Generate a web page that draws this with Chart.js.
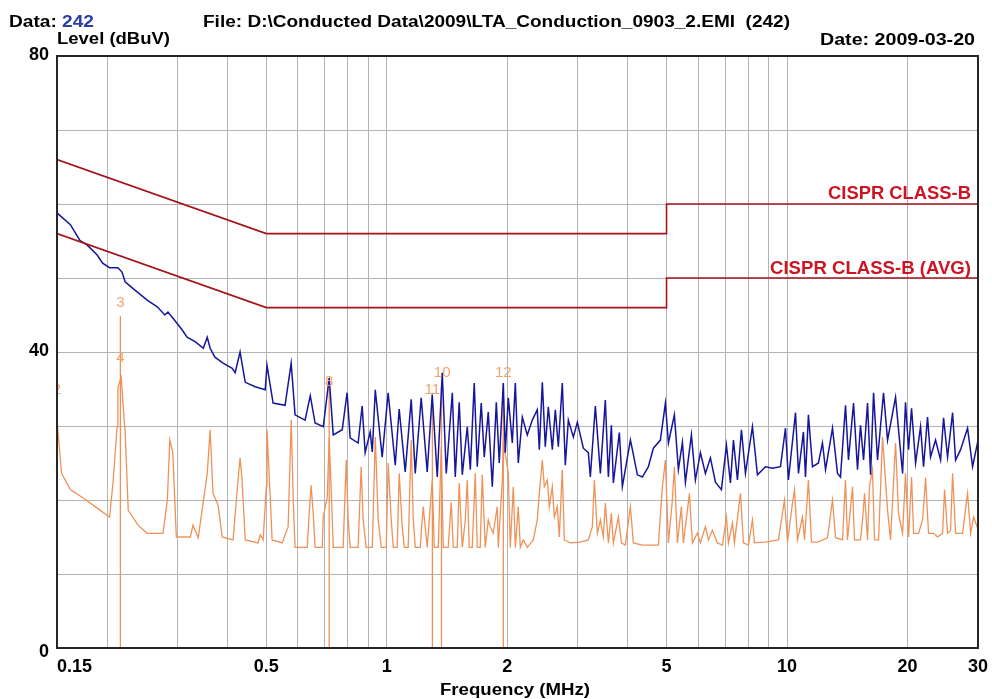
<!DOCTYPE html>
<html>
<head>
<meta charset="utf-8">
<script src="https://cdn.jsdelivr.net/npm/chart.js@4.4.1/dist/chart.umd.min.js"></script>
<style>
  html, body { margin: 0; padding: 0; background: #fff; }
  canvas { display: block; }
</style>
</head>
<body>
<canvas id="emiChart" width="992" height="699"></canvas>
<script>
// peak scan (blue)
const peakFreq = [0.150, 0.162, 0.171, 0.178, 0.189, 0.195, 0.203, 0.213, 0.218, 0.222, 0.232, 0.252, 0.267, 0.279, 0.284, 0.292,
  0.308, 0.317, 0.332, 0.348, 0.356, 0.362, 0.372, 0.390, 0.411, 0.418, 0.430, 0.443, 0.469, 0.497, 0.502, 0.520,
  0.557, 0.577, 0.590, 0.625, 0.644, 0.662, 0.694, 0.718, 0.735, 0.774, 0.796, 0.810, 0.848, 0.868, 0.883, 0.909,
  0.920, 0.936, 0.974, 1.008, 1.050, 1.074, 1.112, 1.151, 1.178, 1.219, 1.262, 1.299, 1.337, 1.376, 1.408, 1.458,
  1.483, 1.517, 1.544, 1.589, 1.617, 1.654, 1.683, 1.722, 1.752, 1.793, 1.835, 1.878, 1.910, 1.955, 1.977, 2.012,
  2.059, 2.095, 2.131, 2.181, 2.244, 2.310, 2.377, 2.405, 2.447, 2.489, 2.533, 2.592, 2.637, 2.683, 2.745, 2.793,
  2.842, 2.925, 2.993, 3.098, 3.189, 3.225, 3.320, 3.417, 3.516, 3.578, 3.640, 3.682, 3.811, 3.878, 4.061, 4.108,
  4.228, 4.351, 4.504, 4.635, 4.826, 4.967, 5.054, 5.231, 5.353, 5.478, 5.573, 5.769, 5.903, 6.076, 6.253, 6.436,
  6.624, 6.856, 7.057, 7.221, 7.347, 7.518, 7.693, 7.872, 8.196, 8.435, 8.833, 9.196, 9.630, 9.911, 10.08, 10.50,
  10.68, 10.99, 11.12, 11.31, 11.58, 11.98, 12.26, 12.48, 12.99, 13.37, 13.60, 14.00, 14.24, 14.66, 15.00, 15.26,
  15.53, 15.89, 16.17, 16.45, 16.83, 17.42, 17.83, 18.67, 19.44, 19.77, 20.12, 20.47, 20.95, 21.56, 21.93, 22.44,
  22.83, 23.50, 24.19, 24.61, 25.18, 25.92, 26.37, 27.14, 28.25, 29.08, 29.93];
const peakLevel = [58.8, 57.2, 55.1, 54.5, 53.1, 52.0, 51.4, 51.4, 50.8, 49.5, 48.6, 47.0, 46.1, 45.0, 45.4, 44.6,
  43.0, 42.0, 41.4, 40.5, 42.0, 40.5, 39.3, 38.5, 37.8, 37.2, 40.0, 35.9, 35.3, 34.9, 38.2, 33.1,
  32.8, 38.5, 31.5, 30.8, 34.1, 30.4, 29.9, 36.5, 28.8, 29.5, 34.5, 28.4, 27.7, 32.7, 26.4, 29.2,
  26.5, 34.9, 25.8, 34.5, 24.7, 32.3, 23.8, 33.6, 23.6, 33.8, 23.8, 34.2, 23.1, 37.2, 23.6, 34.5,
  23.1, 33.2, 23.4, 29.9, 24.1, 35.8, 24.5, 33.1, 25.8, 31.9, 21.8, 33.2, 25.0, 35.8, 26.4, 33.8,
  27.7, 35.8, 25.0, 31.2, 28.8, 30.8, 32.2, 26.8, 35.9, 27.2, 32.6, 26.8, 32.2, 27.2, 35.8, 24.7,
  30.8, 28.5, 30.5, 27.0, 26.4, 23.1, 32.7, 23.6, 33.5, 23.1, 30.1, 22.3, 29.1, 21.8, 28.1, 26.8,
  23.4, 23.1, 24.5, 27.0, 28.1, 33.1, 27.7, 31.5, 24.1, 27.8, 22.4, 28.8, 22.7, 26.4, 23.6, 25.7,
  22.4, 21.4, 27.4, 22.3, 28.1, 22.7, 29.5, 23.6, 29.9, 23.4, 24.5, 24.3, 24.5, 29.7, 22.7, 31.8,
  23.6, 29.2, 23.1, 31.5, 24.5, 25.0, 27.7, 24.1, 29.7, 23.6, 23.1, 32.8, 25.4, 33.1, 24.1, 30.1,
  25.4, 33.1, 23.4, 34.5, 25.4, 34.5, 28.1, 33.9, 23.6, 33.2, 26.8, 32.4, 25.0, 29.9, 24.5, 31.2,
  25.8, 28.1, 25.4, 31.1, 25.8, 31.8, 25.4, 26.8, 29.7, 24.5, 27.8];

// average scan (orange)
const avgFreq = [0.150, 0.154, 0.162, 0.174, 0.189, 0.203, 0.207, 0.212, 0.213, 0.217, 0.219, 0.222, 0.226, 0.239, 0.252, 0.276,
  0.283, 0.287, 0.292, 0.298, 0.323, 0.328, 0.338, 0.356, 0.362, 0.368, 0.379, 0.388, 0.413, 0.425, 0.430, 0.435,
  0.443, 0.477, 0.483, 0.491, 0.500, 0.502, 0.511, 0.517, 0.548, 0.567, 0.577, 0.584, 0.590, 0.633, 0.640, 0.647,
  0.655, 0.662, 0.690, 0.694, 0.710, 0.718, 0.730, 0.735, 0.778, 0.792, 0.801, 0.810, 0.848, 0.863, 0.873, 0.888,
  0.920, 0.936, 0.952, 0.969, 0.997, 1.008, 1.026, 1.038, 1.062, 1.074, 1.093, 1.106, 1.131, 1.151, 1.164, 1.178,
  1.212, 1.233, 1.262, 1.299, 1.314, 1.345, 1.368, 1.384, 1.424, 1.449, 1.466, 1.500, 1.517, 1.544, 1.571, 1.589,
  1.607, 1.635, 1.664, 1.683, 1.712, 1.732, 1.762, 1.793, 1.814, 1.845, 1.888, 1.899, 1.944, 1.955, 1.989, 2.012,
  2.035, 2.071, 2.095, 2.131, 2.156, 2.193, 2.244, 2.323, 2.377, 2.405, 2.447, 2.475, 2.518, 2.547, 2.592, 2.622,
  2.667, 2.698, 2.745, 2.777, 2.875, 3.045, 3.189, 3.263, 3.301, 3.358, 3.417, 3.476, 3.516, 3.578, 3.640, 3.682,
  3.790, 3.856, 3.945, 4.061, 4.131, 4.351, 4.771, 4.882, 4.967, 5.054, 5.171, 5.231, 5.322, 5.446, 5.509, 5.638,
  5.703, 5.802, 5.972, 6.076, 6.253, 6.362, 6.510, 6.700, 6.896, 7.057, 7.138, 7.305, 7.389, 7.649, 7.782, 8.010,
  8.196, 8.291, 8.833, 9.519, 9.854, 10.03, 10.32, 10.44, 10.62, 10.93, 11.06, 11.31, 11.51, 11.92, 12.62, 12.99,
  13.22, 13.76, 14.00, 14.16, 14.58, 14.74, 15.26, 15.44, 15.62, 15.89, 16.07, 16.35, 16.54, 16.93, 17.32, 17.83,
  18.14, 18.67, 18.99, 19.44, 19.77, 20.12, 20.47, 20.71, 21.31, 21.81, 22.19, 22.57, 23.23, 23.77, 24.47, 24.75,
  25.18, 25.62, 25.92, 26.37, 27.45, 28.25, 28.75, 29.25, 29.93];
const avgLevel = [30.8, 23.6, 21.4, 20.3, 18.9, 17.7, 22.3, 29.9, 35.3, 36.6, 33.5, 29.1, 18.6, 16.6, 15.5, 15.5,
  20.0, 28.1, 26.4, 15.0, 15.0, 16.6, 14.9, 23.6, 29.5, 20.9, 19.3, 15.0, 14.6, 22.7, 25.7, 22.7,
  14.6, 14.2, 15.3, 14.6, 21.8, 29.5, 20.9, 14.6, 14.2, 16.4, 30.8, 20.0, 13.6, 13.6, 18.2, 22.0,
  18.2, 13.6, 13.6, 17.7, 20.4, 28.4, 18.2, 13.6, 13.6, 25.4, 17.3, 13.6, 13.6, 24.5, 17.3, 13.6,
  13.6, 28.5, 17.3, 13.6, 13.6, 25.0, 17.3, 13.6, 13.6, 23.6, 16.4, 13.6, 13.6, 28.1, 17.7, 13.6,
  13.6, 19.1, 13.6, 22.7, 13.6, 13.6, 27.2, 13.6, 13.6, 19.7, 13.6, 13.6, 22.3, 13.6, 17.3, 22.7,
  13.6, 13.6, 23.6, 13.6, 13.6, 23.4, 13.6, 17.3, 16.4, 15.5, 19.1, 13.6, 22.7, 27.7, 25.4, 23.6,
  13.6, 21.8, 13.6, 19.1, 13.6, 14.6, 13.6, 14.6, 17.3, 20.9, 25.4, 21.8, 22.7, 19.1, 21.8, 17.7,
  19.1, 15.0, 24.1, 14.6, 14.2, 14.3, 14.6, 16.4, 22.7, 15.5, 17.3, 15.0, 19.6, 14.2, 18.2, 14.2,
  17.7, 14.2, 13.9, 19.1, 14.2, 13.9, 13.9, 21.8, 25.4, 14.2, 20.0, 24.5, 14.2, 19.1, 14.2, 18.6,
  20.9, 14.2, 15.5, 14.2, 16.4, 14.6, 15.9, 14.2, 13.9, 17.7, 14.2, 16.9, 14.2, 20.9, 14.2, 13.9,
  17.3, 14.2, 14.3, 14.6, 20.0, 14.3, 19.6, 21.4, 14.6, 17.7, 14.6, 22.7, 14.3, 14.3, 14.9, 20.0,
  14.9, 14.6, 22.7, 14.6, 21.8, 14.6, 14.6, 17.3, 20.9, 14.6, 21.8, 24.1, 14.6, 14.6, 28.5, 18.6,
  14.6, 27.7, 18.2, 15.5, 23.6, 15.0, 23.1, 15.5, 15.5, 17.3, 23.0, 15.5, 15.5, 15.0, 15.5, 21.4,
  15.5, 15.9, 23.6, 15.5, 15.5, 20.9, 15.5, 17.7, 16.2];

// CISPR 22 class B limits
const qpLimitFreq = [0.15, 0.5, 5, 5, 30];
const qpLimitLevel = [66, 56, 56, 60, 60];
const avgLimitFreq = [0.15, 0.5, 5, 5, 30];
const avgLimitLevel = [56, 46, 46, 50, 50];

// markers
const markerNames = ["2", "3", "4", "8", "11", "10", "12"];
const markerFreq = [0.150, 0.216, 0.216, 0.718, 1.30, 1.375, 1.955];
const markerLevel = [34.9, 46.6, 39.2, 35.9, 34.9, 37.2, 37.2];
const markerLineFreq = [0.216, 0.718, 1.30, 1.37, 1.955];
const markerLineTop = [44.9, 36.0, 34.5, 35.3, 35.8];

const gridFreqs = [0.15, 0.2, 0.3, 0.4, 0.5, 0.6, 0.7, 0.8, 0.9, 1, 2, 3, 4, 5, 6, 7, 8, 9, 10, 20, 30];
const xTickValues = [0.15, 0.5, 1, 2, 5, 10, 20, 30];
const xTickLabels = ["0.15", "0.5", "1", "2", "5", "10", "20", "30"];
const yTickValues = [0, 40, 80];

const pairs = (xs, ys) => xs.map((v, i) => ({ x: v, y: ys[i] }));

const markerLineData = [];
markerLineFreq.forEach((f, i) => {
  markerLineData.push({ x: f, y: markerLineTop[i] }, { x: f, y: 0 }, { x: f, y: null });
});

const FONT = '"Liberation Sans", Arial, sans-serif';

function fitText(ctx, parts, x, y, align, width, size) {
  ctx.font = "bold " + size + "px " + FONT;
  const total = parts.reduce((s, p) => s + ctx.measureText(p.t).width, 0);
  const sx = width ? width / total : 1;
  let start = x;
  if (align === "right") start = x - total * sx;
  if (align === "center") start = x - total * sx / 2;
  ctx.save();
  ctx.translate(start, y);
  ctx.scale(sx, 1);
  ctx.textAlign = "left";
  ctx.textBaseline = "alphabetic";
  let cx = 0;
  parts.forEach(p => {
    ctx.fillStyle = p.c || "#000";
    ctx.fillText(p.t, cx, 0);
    cx += ctx.measureText(p.t).width;
  });
  ctx.restore();
}

const emiText = {
  id: "emiText",
  afterDraw(chart) {
    const { ctx, chartArea: a, scales: { x, y } } = chart;
    ctx.save();
    ctx.strokeStyle = "#262626";
    ctx.lineWidth = 2;
    ctx.strokeRect(a.left, a.top, a.right - a.left, a.bottom - a.top);

    // marker numbers
    ctx.save();
    ctx.beginPath();
    ctx.rect(a.left + 1, a.top, a.right - a.left, a.bottom - a.top);
    ctx.clip();
    ctx.fillStyle = "#f0a46c";
    ctx.font = "15px " + FONT;
    ctx.textAlign = "center";
    ctx.textBaseline = "middle";
    markerNames.forEach((n, i) => {
      ctx.fillText(n, x.getPixelForValue(markerFreq[i]), y.getPixelForValue(markerLevel[i]));
    });
    ctx.restore();

    // limit labels
    const xr = x.getPixelForValue(30) - 7;
    fitText(ctx, [{ t: "CISPR CLASS-B", c: "#cc1422" }], xr, y.getPixelForValue(qpLimitLevel[4]) - 5, "right", 143, 18);
    fitText(ctx, [{ t: "CISPR CLASS-B (AVG)", c: "#cc1422" }], xr, y.getPixelForValue(avgLimitLevel[4]) - 4, "right", 201, 18);

    // x tick labels
    ctx.font = "bold 18px " + FONT;
    ctx.fillStyle = "#000";
    ctx.textBaseline = "alphabetic";
    xTickValues.forEach((v, i) => {
      const px = x.getPixelForValue(v);
      ctx.textAlign = i === 0 ? "left" : "center";
      ctx.fillText(xTickLabels[i], px, 672);
    });
    // y tick labels
    ctx.textAlign = "right";
    ctx.textBaseline = "middle";
    yTickValues.forEach(v => {
      ctx.fillText(String(v), 49, y.getPixelForValue(v) + (v === 0 ? 4 : -1));
    });

    // headings
    fitText(ctx, [{ t: "Data: " }, { t: "242", c: "#2b3fa3" }], 9, 27, "left", 85, 16);
    fitText(ctx, [{ t: "File: D:\\Conducted Data\\2009\\LTA_Conduction_0903_2.EMI  (242)" }], 203, 27, "left", 587, 16);
    fitText(ctx, [{ t: "Level (dBuV)" }], 57, 44, "left", 113, 16);
    fitText(ctx, [{ t: "Date: 2009-03-20" }], 975, 45, "right", 155, 16);
    fitText(ctx, [{ t: "Frequency (MHz)" }], 515, 695, "center", 150, 16);
    ctx.restore();
  }
};

new Chart(document.getElementById("emiChart").getContext("2d"), {
  type: "scatter",
  data: {
    datasets: [
      {
        label: "CISPR CLASS-B",
        data: pairs(qpLimitFreq, qpLimitLevel),
        showLine: true, borderColor: "#a3151b", borderWidth: 1.6, pointRadius: 0
      },
      {
        label: "CISPR CLASS-B (AVG)",
        data: pairs(avgLimitFreq, avgLimitLevel),
        showLine: true, borderColor: "#a3151b", borderWidth: 1.6, pointRadius: 0
      },
      {
        label: "Peak",
        data: pairs(peakFreq, peakLevel),
        showLine: true, borderColor: "#16169c", borderWidth: 1.5, pointRadius: 0
      },
      {
        label: "Average",
        data: pairs(avgFreq, avgLevel),
        showLine: true, borderColor: "#ef9258", borderWidth: 1.3, pointRadius: 0
      },
      {
        label: "Markers",
        data: markerLineData,
        showLine: true, spanGaps: false, borderColor: "#ef9258", borderWidth: 1.3, pointRadius: 0
      }
    ]
  },
  options: {
    responsive: false,
    animation: false,
    layout: { padding: { top: 56, right: 14, left: 0, bottom: 0 } },
    plugins: { legend: { display: false }, tooltip: { enabled: false } },
    scales: {
      x: {
        type: "logarithmic",
        min: 0.15,
        max: 30,
        afterBuildTicks: s => { s.ticks = gridFreqs.map(v => ({ value: v })); },
        afterFit: s => { s.height = 51; },
        ticks: { display: false },
        grid: { color: "#b4b4b4", lineWidth: 1, drawTicks: false },
        border: { display: false }
      },
      y: {
        min: 0,
        max: 80,
        afterFit: s => { s.width = 57; },
        ticks: { display: false, stepSize: 10 },
        grid: { color: "#b4b4b4", lineWidth: 1, drawTicks: false },
        border: { display: false }
      }
    }
  },
  plugins: [emiText]
});
</script>
</body>
</html>
